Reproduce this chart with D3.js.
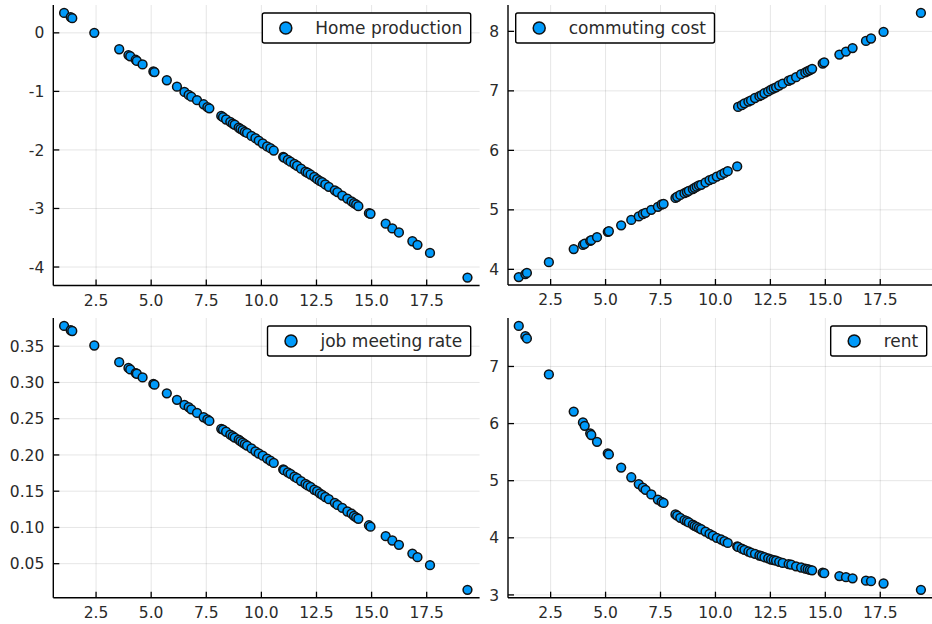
<!DOCTYPE html>
<html>
<head>
<meta charset="utf-8">
<script src="https://cdn.jsdelivr.net/npm/d3@7"></script>
<style>
  html, body { margin: 0; padding: 0; background: #fff; }
  svg { display: block; }
  text { font-family: "DejaVu Sans", sans-serif; fill: #2a2a2a; }
</style>
</head>
<body>
<svg id="chart" width="932" height="624"></svg>
<script>
// ---- data ----
const distance = [1.05, 1.35, 1.42, 2.42, 3.55, 3.97, 4.05, 4.30, 4.35, 4.61, 5.10, 5.15, 5.71, 6.17, 6.51, 6.70, 6.82, 7.08, 7.38, 7.55, 7.64, 8.18, 8.26, 8.40, 8.59, 8.70, 8.79, 8.97, 9.05, 9.15, 9.25, 9.35, 9.55, 9.73, 9.88, 10.06, 10.26, 10.41, 10.56, 10.99, 11.03, 11.20, 11.32, 11.50, 11.62, 11.80, 12.00, 12.10, 12.23, 12.40, 12.53, 12.65, 12.76, 12.90, 13.06, 13.33, 13.45, 13.67, 13.90, 14.09, 14.20, 14.30, 14.40, 14.88, 14.95, 15.64, 15.94, 16.24, 16.85, 17.08, 17.65, 19.35];

const homeProduction = [0.34, 0.27, 0.25, 0.00, -0.28, -0.38, -0.40, -0.46, -0.48, -0.54, -0.66, -0.67, -0.81, -0.92, -1.01, -1.06, -1.09, -1.15, -1.22, -1.27, -1.29, -1.42, -1.44, -1.48, -1.52, -1.55, -1.57, -1.62, -1.64, -1.66, -1.69, -1.71, -1.76, -1.80, -1.84, -1.89, -1.94, -1.97, -2.01, -2.12, -2.13, -2.17, -2.20, -2.24, -2.27, -2.32, -2.37, -2.39, -2.42, -2.46, -2.50, -2.53, -2.55, -2.59, -2.63, -2.69, -2.72, -2.78, -2.83, -2.88, -2.91, -2.93, -2.96, -3.08, -3.09, -3.26, -3.34, -3.41, -3.56, -3.62, -3.76, -4.18];

const commutingCost = [3.87, 3.92, 3.94, 4.12, 4.34, 4.41, 4.43, 4.48, 4.49, 4.54, 4.63, 4.64, 4.74, 4.83, 4.89, 4.93, 4.95, 5.00, 5.05, 5.09, 5.10, 5.20, 5.22, 5.25, 5.28, 5.30, 5.32, 5.35, 5.37, 5.39, 5.41, 5.42, 5.46, 5.50, 5.52, 5.56, 5.59, 5.62, 5.65, 5.73, 6.73, 6.76, 6.79, 6.82, 6.84, 6.88, 6.91, 6.93, 6.96, 6.99, 7.02, 7.04, 7.06, 7.09, 7.12, 7.17, 7.19, 7.23, 7.28, 7.31, 7.33, 7.35, 7.37, 7.46, 7.48, 7.61, 7.66, 7.72, 7.84, 7.88, 7.99, 8.31];

const jobMeetingRate = [0.378, 0.372, 0.371, 0.351, 0.328, 0.320, 0.318, 0.313, 0.312, 0.307, 0.298, 0.297, 0.285, 0.276, 0.269, 0.266, 0.263, 0.258, 0.252, 0.249, 0.247, 0.236, 0.235, 0.232, 0.228, 0.226, 0.224, 0.221, 0.219, 0.217, 0.215, 0.213, 0.209, 0.205, 0.202, 0.199, 0.195, 0.192, 0.189, 0.180, 0.179, 0.176, 0.174, 0.170, 0.168, 0.164, 0.160, 0.158, 0.156, 0.152, 0.150, 0.147, 0.145, 0.142, 0.139, 0.134, 0.131, 0.127, 0.122, 0.119, 0.116, 0.114, 0.112, 0.103, 0.101, 0.088, 0.082, 0.076, 0.064, 0.059, 0.048, 0.014];

const rent = [7.71, 7.53, 7.49, 6.86, 6.21, 6.02, 5.96, 5.83, 5.80, 5.68, 5.48, 5.46, 5.23, 5.06, 4.94, 4.88, 4.84, 4.76, 4.67, 4.63, 4.61, 4.41, 4.39, 4.35, 4.31, 4.29, 4.27, 4.23, 4.21, 4.19, 4.17, 4.15, 4.11, 4.07, 4.04, 4.00, 3.97, 3.94, 3.91, 3.85, 3.84, 3.81, 3.79, 3.76, 3.74, 3.72, 3.69, 3.68, 3.66, 3.64, 3.62, 3.61, 3.60, 3.58, 3.56, 3.54, 3.53, 3.50, 3.48, 3.46, 3.45, 3.44, 3.43, 3.39, 3.38, 3.33, 3.31, 3.29, 3.25, 3.24, 3.20, 3.09];

const seriesNames = ["Home production", "commuting cost", "job meeting rate", "rent"];

const xTicks = [2.5, 5.0, 7.5, 10.0, 12.5, 15.0, 17.5];
const xTickLabels = ["2.5", "5.0", "7.5", "10.0", "12.5", "15.0", "17.5"];

const homeTicks = [0, -1, -2, -3, -4];
const homeTickLabels = ["0", "-1", "-2", "-3", "-4"];
const commuteTicks = [4, 5, 6, 7, 8];
const commuteTickLabels = ["4", "5", "6", "7", "8"];
const jobTicks = [0.05, 0.10, 0.15, 0.20, 0.25, 0.30, 0.35];
const jobTickLabels = ["0.05", "0.10", "0.15", "0.20", "0.25", "0.30", "0.35"];
const rentTicks = [3, 4, 5, 6, 7];
const rentTickLabels = ["3", "4", "5", "6", "7"];

// ---- layout ----
const svg = d3.select("#chart");
const blue = "#009AFA";
const xDomain = [0.56, 19.9];

const panels = [
  { values: homeProduction, name: seriesNames[0], ticks: homeTicks, labels: homeTickLabels,
    xr: [53.3, 479.6], yr: [285.5, 5], legend: { side: "right", x: 470.7, y: 13 } },
  { values: commutingCost, name: seriesNames[1], ticks: commuteTicks, labels: commuteTickLabels,
    xr: [508, 933], yr: [285, 5], legend: { side: "left", x: 515.7, y: 13 } },
  { values: jobMeetingRate, name: seriesNames[2], ticks: jobTicks, labels: jobTickLabels,
    xr: [53.3, 479.6], yr: [597.7, 318], legend: { side: "right", x: 470.7, y: 326 } },
  { values: rent, name: seriesNames[3], ticks: rentTicks, labels: rentTickLabels,
    xr: [508, 933], yr: [597.7, 318], legend: { side: "right", x: 926.7, y: 326 } }
];

function padded(ext) {
  const s = ext[1] - ext[0];
  return [ext[0] - 0.03 * s, ext[1] + 0.03 * s];
}

panels.forEach(p => {
  const g = svg.append("g");
  const x = d3.scaleLinear().domain(xDomain).range(p.xr);
  const y = d3.scaleLinear().domain(padded(d3.extent(p.values))).range(p.yr);
  const [x0, x1] = p.xr;
  const [yb, yt] = p.yr;

  // grid
  g.append("g").selectAll("line").data(xTicks).join("line")
    .attr("x1", d => x(d)).attr("x2", d => x(d))
    .attr("y1", yt).attr("y2", yb)
    .attr("stroke", "#000").attr("stroke-opacity", 0.1).attr("stroke-width", 1);
  g.append("g").selectAll("line").data(p.ticks).join("line")
    .attr("x1", x0).attr("x2", x1)
    .attr("y1", d => y(d)).attr("y2", d => y(d))
    .attr("stroke", "#000").attr("stroke-opacity", 0.1).attr("stroke-width", 1);

  // axes lines
  g.append("line").attr("x1", x0).attr("x2", x1).attr("y1", yb).attr("y2", yb)
    .attr("stroke", "#000").attr("stroke-width", 1.4);
  g.append("line").attr("x1", x0).attr("x2", x0).attr("y1", yt).attr("y2", yb)
    .attr("stroke", "#000").attr("stroke-width", 1.4);

  // tick marks (inward)
  g.append("g").selectAll("line").data(xTicks).join("line")
    .attr("x1", d => x(d)).attr("x2", d => x(d))
    .attr("y1", yb).attr("y2", yb - 6)
    .attr("stroke", "#000").attr("stroke-width", 1.3);
  g.append("g").selectAll("line").data(p.ticks).join("line")
    .attr("x1", x0).attr("x2", x0 + 6)
    .attr("y1", d => y(d)).attr("y2", d => y(d))
    .attr("stroke", "#000").attr("stroke-width", 1.3);

  // tick labels
  g.append("g").selectAll("text").data(xTicks).join("text")
    .attr("x", d => x(d)).attr("y", yb + 20)
    .attr("text-anchor", "middle").style("font-size", "15.5px")
    .text((d, i) => xTickLabels[i]);
  g.append("g").selectAll("text").data(p.ticks).join("text")
    .attr("x", x0 - 9).attr("y", d => y(d)).attr("dy", "0.36em")
    .attr("text-anchor", "end").style("font-size", "15.5px")
    .text((d, i) => p.labels[i]);

  // points
  g.append("g").selectAll("circle").data(distance.map((d, i) => [d, p.values[i]])).join("circle")
    .attr("cx", d => x(d[0])).attr("cy", d => y(d[1]))
    .attr("r", 4.4)
    .attr("fill", blue).attr("stroke", "#111").attr("stroke-width", 1.5);

  // legend
  const lg = g.append("g");
  const box = lg.append("rect");
  const txt = lg.append("text").style("font-size", "17px").attr("dy", "0.36em").text(p.name);
  const tw = txt.node().getComputedTextLength();
  const w = 53 + tw + 8.5, h = 30;
  const left = p.legend.side === "right" ? p.legend.x - w : p.legend.x;
  const top = p.legend.y;
  box.attr("x", left).attr("y", top).attr("width", w).attr("height", h)
    .attr("rx", 2).attr("fill", "#fff").attr("stroke", "#000").attr("stroke-width", 1.4);
  txt.attr("x", left + 53).attr("y", top + h / 2);
  lg.append("circle").attr("cx", left + 23.5).attr("cy", top + h / 2).attr("r", 6)
    .attr("fill", blue).attr("stroke", "#111").attr("stroke-width", 1.5);
});
</script>
</body>
</html>
